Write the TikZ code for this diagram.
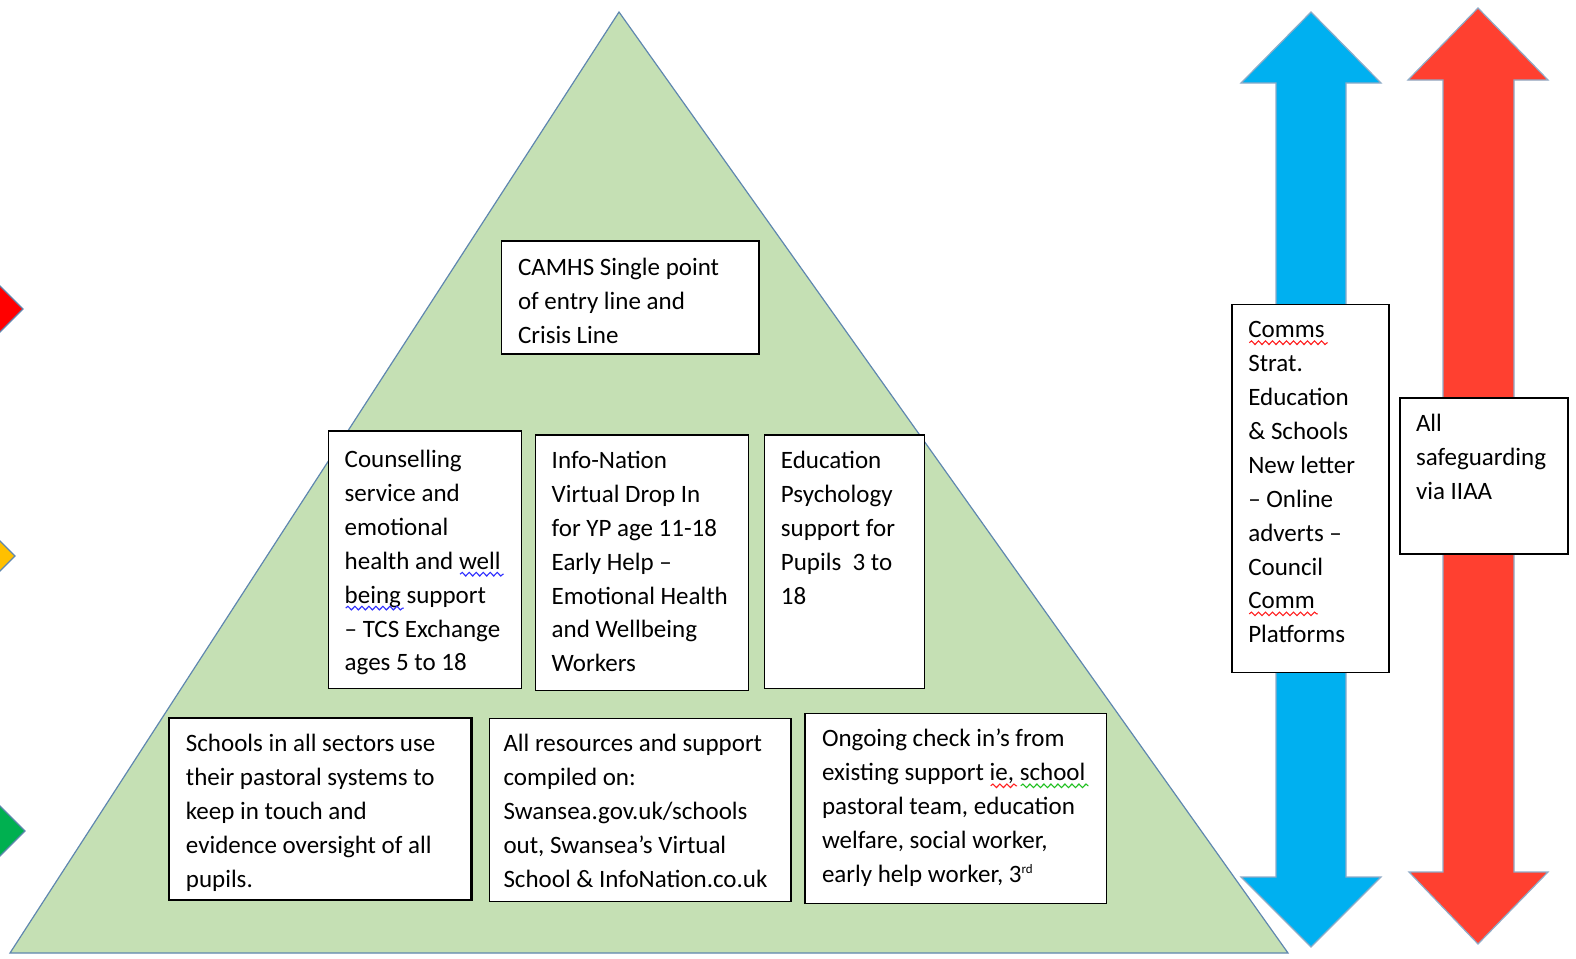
\documentclass[tikz,border=0pt]{standalone}
\usepackage{fontspec}
\setmainfont{Carlito}
\usetikzlibrary{calc,decorations.pathmorphing}
\definecolor{trifill}{HTML}{C5E0B4}
\definecolor{shapeline}{RGB}{95,135,175}
\definecolor{arrblue}{HTML}{00B0F0}
\definecolor{arrred}{HTML}{FF4030}
\definecolor{dred}{HTML}{FF0000}
\definecolor{dyellow}{HTML}{FFC000}
\definecolor{dgreen}{HTML}{00B050}
\definecolor{sqred}{HTML}{FF2020}
\definecolor{sqblue}{HTML}{3030FF}
\definecolor{sqgreen}{HTML}{20C020}
\newcommand{\bodyfont}{\fontsize{25}{33.9}\selectfont}
\newcommand{\squig}[2]{\tikz[baseline=(sq.base)]{\node[inner sep=0pt,outer sep=0pt,anchor=base] (sq) {#2};\draw[overlay,draw=#1,line width=1.1pt,decorate,decoration={snake,amplitude=1.8pt,segment length=7pt}] ([xshift=1pt,yshift=-5pt]sq.base west) -- ([xshift=3pt,yshift=-5pt]sq.base east);}}
\newcommand{\lines}[2]{\parbox[t]{#1}{\bodyfont\raggedright #2}}
\newcommand{\supsmall}[1]{\raisebox{9pt}{\fontsize{13}{13}\selectfont #1}}
\tikzset{
  tbox/.style={draw=black, line width=1.5pt, fill=white, inner sep=0pt, anchor=north west},
  ttext/.style={inner sep=0pt, outer sep=0pt, anchor=base west, align=left},
  shapeedge/.style={draw=shapeline, line width=1.2pt, line join=miter},
}
\begin{document}
\begin{tikzpicture}[x=1pt,y=-1pt]
\useasboundingbox (0,0) rectangle (1576,958);
\begin{scope}
\clip (0,0) rectangle (1576,958);
% left diamonds
\path[shapeedge, fill=dred] (0,286) -- (23,309) -- (0,332) -- (-23,309) -- cycle;
\path[shapeedge, fill=dyellow] (0,541) -- (15,556) -- (0,571) -- (-15,556) -- cycle;
\path[shapeedge, fill=dgreen] (0,806) -- (25,831) -- (0,856) -- (-25,831) -- cycle;
% triangle
\path[shapeedge, fill=trifill] (619,12) -- (1288,953) -- (10,953) -- cycle;
% arrows
\path[shapeedge, draw=shapeline!70, fill=arrblue] (1311,12) -- (1381,83) -- (1346,83) -- (1346,877) -- (1381,877) -- (1311,947) -- (1241,877) -- (1276,877) -- (1276,83) -- (1241,83) -- cycle;
\path[shapeedge, draw=shapeline!70, fill=arrred] (1478,8) -- (1548,80) -- (1514,80) -- (1514,872) -- (1548,872) -- (1478,944) -- (1409,872) -- (1443,872) -- (1443,80) -- (1408,80) -- cycle;
\end{scope}

% boxes
\node[tbox, minimum width=257.5pt, minimum height=113pt] (camhs) at (500.5,240) {};
\node[ttext] (tcamhs) at ($(camhs.north west)+(17.5,35.4)$) {\lines{240pt}{CAMHS Single point\\of entry line and\\Crisis Line}};

\node[tbox, minimum width=193pt, minimum height=257.5pt] (couns) at (327.7,430) {};
\node[ttext] (tcouns) at ($(couns.north west)+(17,37.5)$) {\lines{180pt}{Counselling\\service and\\emotional\\health and \squig{sqblue}{well}\\\squig{sqblue}{being} support\\– TCS Exchange\\ages 5 to 18}};

\node[tbox, minimum width=213pt, minimum height=255.5pt] (info) at (534.7,434) {};
\node[ttext] (tinfo) at ($(info.north west)+(17,34.4)$) {\lines{200pt}{Info-Nation\\Virtual Drop In\\for YP age 11-18\\Early Help –\\Emotional Health\\and Wellbeing\\Workers}};

\node[tbox, minimum width=160pt, minimum height=253.5pt] (edpsy) at (763.9,434) {};
\node[ttext] (tedpsy) at ($(edpsy.north west)+(17,34.4)$) {\lines{150pt}{Education\\Psychology\\support for\\Pupils~~3 to\\18}};

\node[tbox, minimum width=301.5pt, minimum height=181pt] (schools) at (168.9,717.8) {};
\begin{scope}
\clip (schools.north west) rectangle (schools.south east);
\node[ttext] (tschools) at ($(schools.north west)+(17,34)$) {\lines{290pt}{Schools in all sectors use\\their pastoral systems to\\keep in touch and\\evidence oversight of all\\pupils.}};
\end{scope}
\draw[black, line width=1.5pt] (schools.north west) rectangle (schools.south east);

\node[tbox, minimum width=301.5pt, minimum height=183pt] (res) at (488.5,717.8) {};
\node[ttext] (tres) at ($(res.north west)+(15,34)$) {\lines{290pt}{All resources and support\\compiled on:\\Swansea.gov.uk/schools\\out, Swansea’s Virtual\\School \& InfoNation.co.uk}};

\node[tbox, minimum width=301.5pt, minimum height=190pt] (ongo) at (804,712.7) {};
\node[ttext] (tongo) at ($(ongo.north west)+(18,34.2)$) {\lines{290pt}{Ongoing check in’s from\\existing support \squig{sqred}{ie,} \squig{sqgreen}{school}\\pastoral team, education\\welfare, social worker,\\early help worker, 3\supsmall{rd}}};

\node[tbox, minimum width=157pt, minimum height=368pt] (comms) at (1231,303.6) {};
\node[ttext] (tcomms) at ($(comms.north west)+(17.3,34.1)$) {\lines{140pt}{\squig{sqred}{Comms}\\Strat.\\Education\\\& Schools\\New letter\\– Online\\adverts –\\Council\\\squig{sqred}{Comm}\\Platforms}};

\node[tbox, minimum width=168pt, minimum height=156pt] (safe) at (1399,397) {};
\node[ttext] (tsafe) at ($(safe.north west)+(17,34.2)$) {\lines{150pt}{All\\safeguarding\\via IIAA}};
\end{tikzpicture}
\end{document}
